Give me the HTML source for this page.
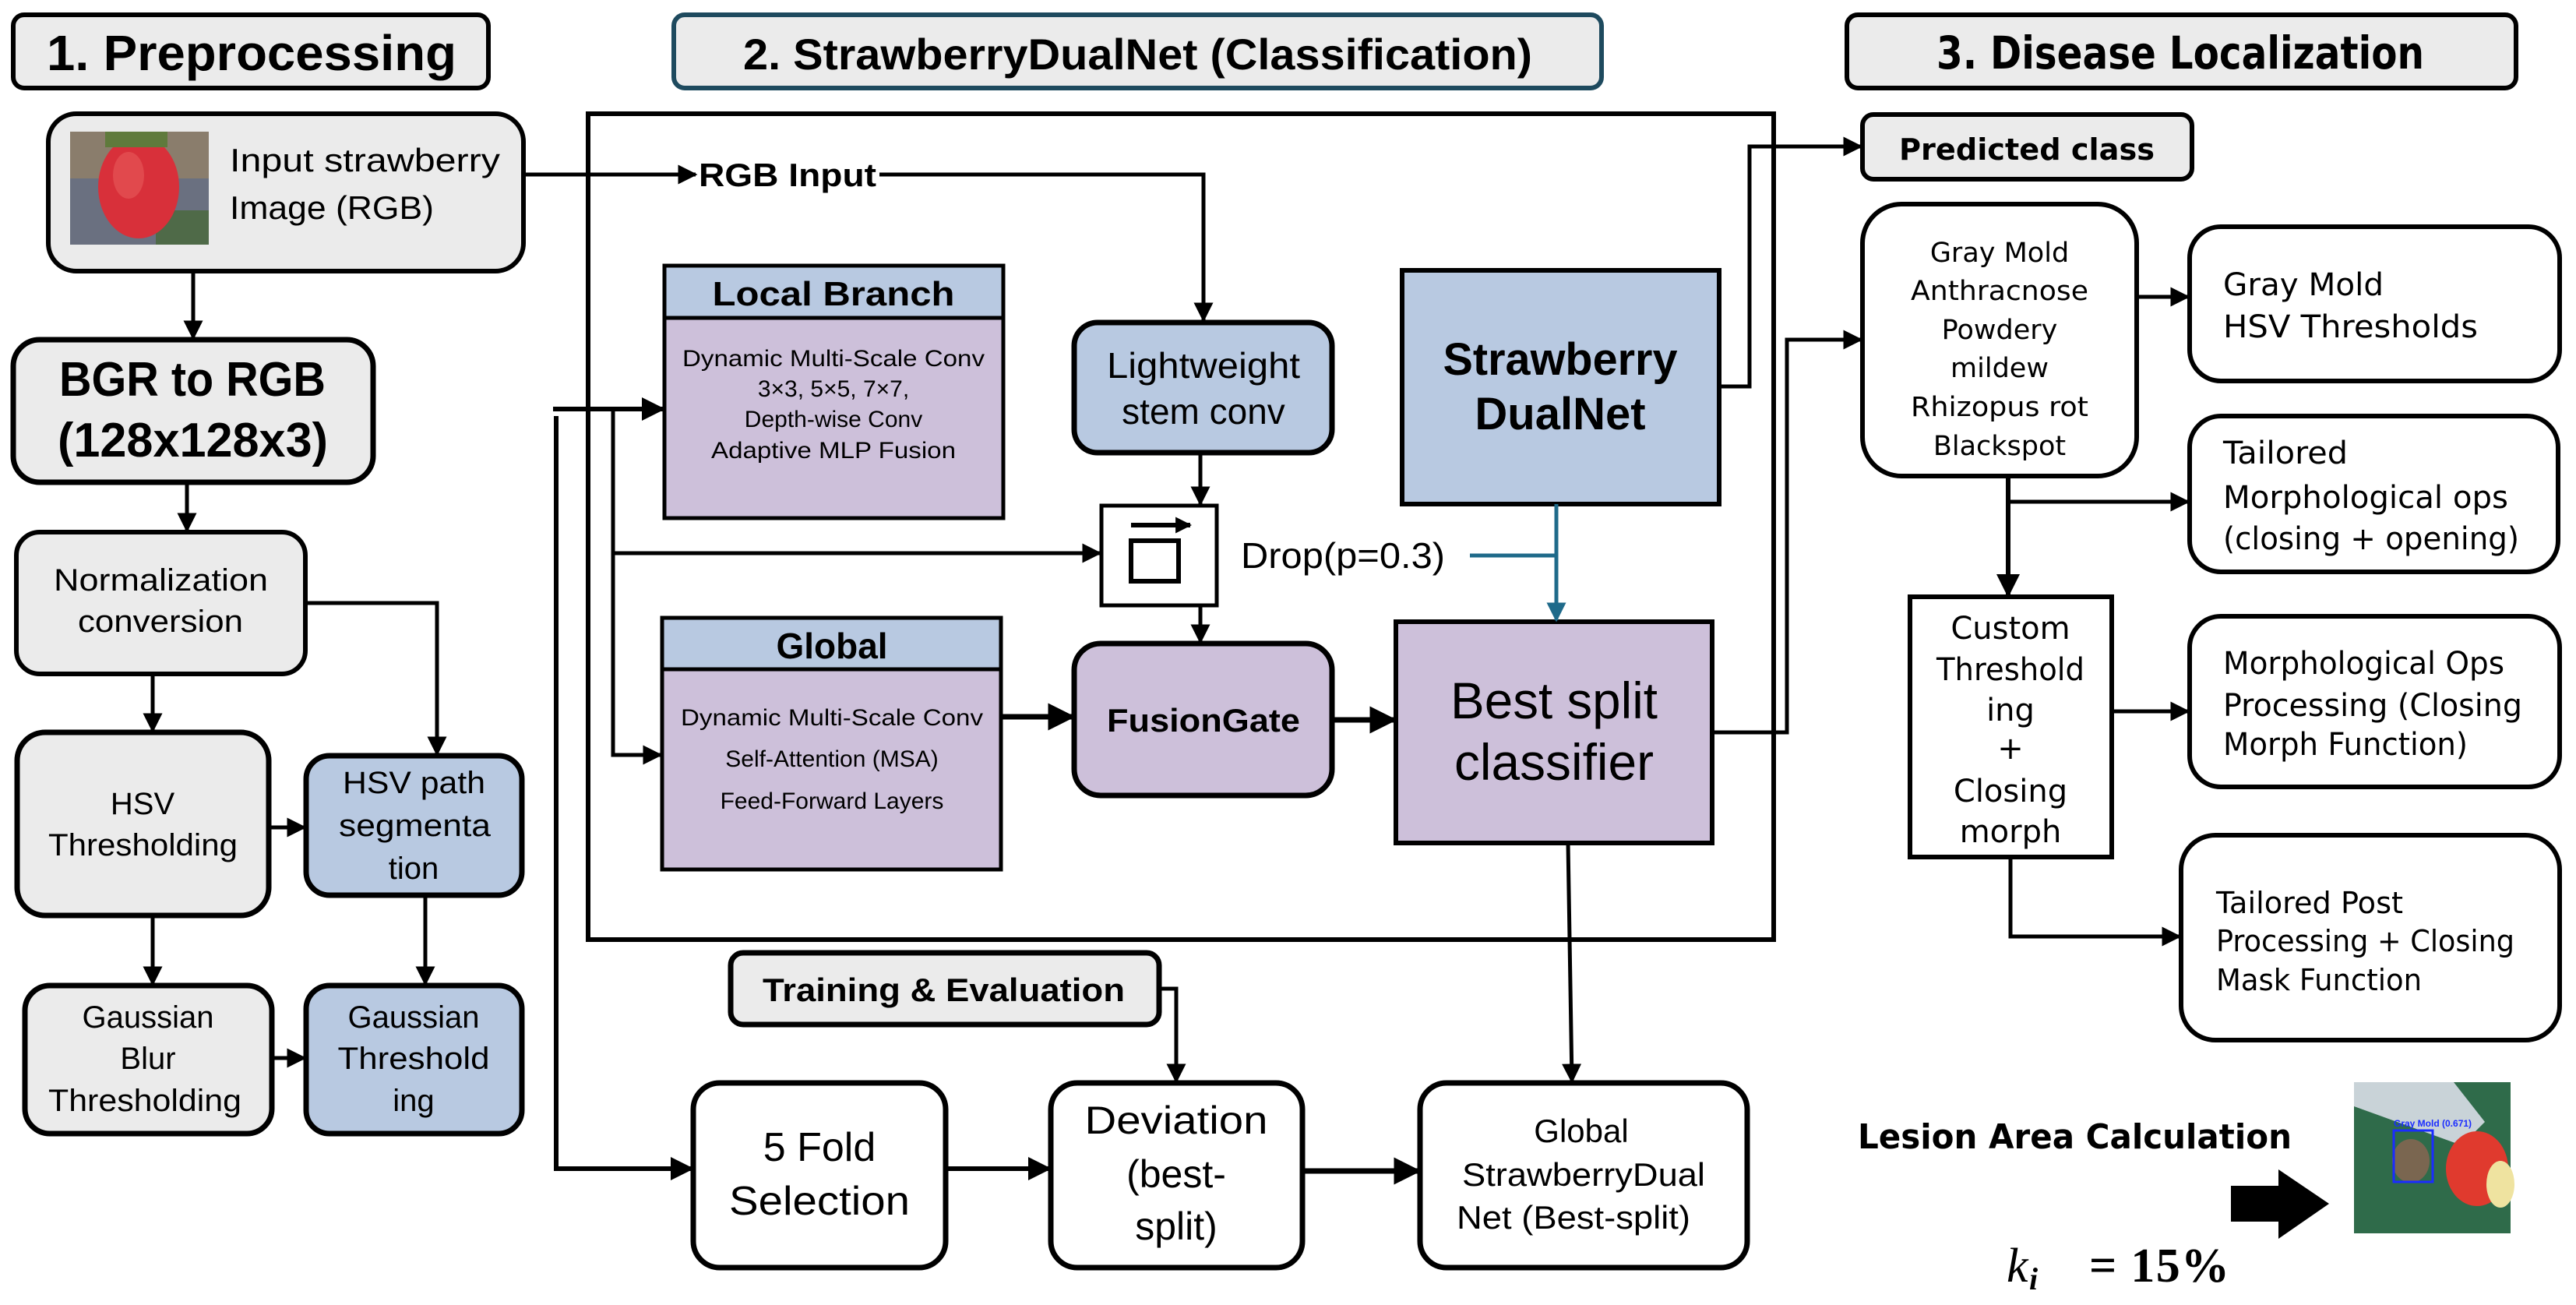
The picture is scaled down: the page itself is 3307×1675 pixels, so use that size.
<!DOCTYPE html>
<html><head><meta charset="utf-8"><style>html,body{margin:0;padding:0;background:#fff}svg{display:block}</style></head>
<body>
<svg width="3307" height="1675" viewBox="0 0 3307 1675" xmlns="http://www.w3.org/2000/svg">
<defs>
<marker id="a" viewBox="0 0 10 10" refX="9" refY="5" markerWidth="5" markerHeight="5" orient="auto" markerUnits="strokeWidth"><path d="M0,0L10,5L0,10z" fill="#000"/></marker>
<marker id="b" viewBox="0 0 10 10" refX="9" refY="5" markerWidth="3.5" markerHeight="3.5" orient="auto" markerUnits="strokeWidth"><path d="M0,0L10,5L0,10z" fill="#000"/></marker>
<marker id="t" viewBox="0 0 10 10" refX="9" refY="5" markerWidth="5" markerHeight="5" orient="auto" markerUnits="strokeWidth"><path d="M0,0L10,5L0,10z" fill="#1f6a8a"/></marker>
</defs>
<g font-family="Liberation Sans, sans-serif" fill="#000">

<!-- SECTION TITLES -->
<rect x="17" y="19" width="610" height="94" rx="14" fill="#ebebeb" stroke="#000" stroke-width="6"/>
<text x="60" y="90" font-size="64" font-weight="bold" textLength="526" lengthAdjust="spacingAndGlyphs">1. Preprocessing</text>
<rect x="865" y="19" width="1191" height="94" rx="14" fill="#ebebeb" stroke="#1e4a5e" stroke-width="6"/>
<text x="954" y="89" font-size="56" font-weight="bold" textLength="1013" lengthAdjust="spacingAndGlyphs">2. StrawberryDualNet (Classification)</text>
<rect x="2371" y="19" width="859" height="94" rx="14" fill="#ebebeb" stroke="#000" stroke-width="6"/>
<text x="2486" y="88" font-size="58" font-weight="bold" font-family="DejaVu Sans, sans-serif" textLength="626" lengthAdjust="spacingAndGlyphs">3. Disease Localization</text>

<!-- SECTION 1 -->
<rect x="62" y="146" width="610" height="202" rx="36" fill="#ebebeb" stroke="#000" stroke-width="6"/>
<rect x="90" y="169" width="178" height="145" fill="#6a7080"/>
<rect x="90" y="169" width="178" height="60" fill="#8a7d6c"/>
<rect x="200" y="270" width="68" height="44" fill="#4f6a48"/>
<ellipse cx="178" cy="240" rx="52" ry="66" fill="#d8303a"/>
<ellipse cx="165" cy="225" rx="20" ry="30" fill="#e85a5a" opacity="0.6"/>
<rect x="135" y="169" width="80" height="20" fill="#5f7a3c"/>
<text x="295" y="220" font-size="42" textLength="347" lengthAdjust="spacingAndGlyphs">Input strawberry</text>
<text x="295" y="281" font-size="42" textLength="262" lengthAdjust="spacingAndGlyphs">Image (RGB)</text>

<rect x="17" y="436" width="462" height="183" rx="34" fill="#ebebeb" stroke="#000" stroke-width="7"/>
<text x="76" y="508" font-size="62" font-weight="bold" textLength="342" lengthAdjust="spacingAndGlyphs">BGR to RGB</text>
<text x="74" y="586" font-size="62" font-weight="bold" textLength="347" lengthAdjust="spacingAndGlyphs">(128x128x3)</text>

<rect x="21" y="683" width="371" height="182" rx="30" fill="#ebebeb" stroke="#000" stroke-width="6"/>
<text x="69" y="758" font-size="40" textLength="275" lengthAdjust="spacingAndGlyphs">Normalization</text>
<text x="100" y="811" font-size="40" textLength="212" lengthAdjust="spacingAndGlyphs">conversion</text>

<rect x="22" y="940" width="323" height="235" rx="36" fill="#ebebeb" stroke="#000" stroke-width="7"/>
<text x="183" y="1045" font-size="40" text-anchor="middle">HSV</text>
<text x="62" y="1098" font-size="40" textLength="243" lengthAdjust="spacingAndGlyphs">Thresholding</text>
<rect x="393" y="970" width="277" height="179" rx="30" fill="#b8c9e1" stroke="#000" stroke-width="7"/>
<text x="440" y="1018" font-size="40" textLength="183" lengthAdjust="spacingAndGlyphs">HSV path</text>
<text x="435" y="1073" font-size="40" textLength="195" lengthAdjust="spacingAndGlyphs">segmenta</text>
<text x="531" y="1128" font-size="40" text-anchor="middle">tion</text>

<rect x="32" y="1265" width="317" height="190" rx="32" fill="#ebebeb" stroke="#000" stroke-width="7"/>
<text x="190" y="1319" font-size="40" text-anchor="middle">Gaussian</text>
<text x="190" y="1372" font-size="40" text-anchor="middle">Blur</text>
<text x="62" y="1426" font-size="40" textLength="248" lengthAdjust="spacingAndGlyphs">Thresholding</text>
<rect x="393" y="1265" width="277" height="190" rx="30" fill="#b8c9e1" stroke="#000" stroke-width="7"/>
<text x="531" y="1319" font-size="40" text-anchor="middle">Gaussian</text>
<text x="531" y="1372" font-size="40" text-anchor="middle" textLength="195" lengthAdjust="spacingAndGlyphs">Threshold</text>
<text x="531" y="1426" font-size="40" text-anchor="middle">ing</text>

<g stroke="#000" stroke-width="5" fill="none">
<path d="M248,350V434" marker-end="url(#a)"/>
<path d="M240,621V681" marker-end="url(#a)"/>
<path d="M196,867V938" marker-end="url(#a)"/>
<path d="M392,774H561V968" marker-end="url(#a)"/>
<path d="M346,1062H391" marker-end="url(#a)"/>
<path d="M196,1177V1263" marker-end="url(#a)"/>
<path d="M546,1151V1263" marker-end="url(#a)"/>
<path d="M349,1358H391" marker-end="url(#a)"/>
</g>

<!-- SECTION 2 frame -->
<rect x="755" y="146" width="1522" height="1060" fill="none" stroke="#000" stroke-width="6"/>
<text x="897" y="239" font-size="42" font-weight="bold" textLength="228" lengthAdjust="spacingAndGlyphs">RGB Input</text>

<!-- Local Branch -->
<rect x="853" y="341" width="435" height="324" fill="#cdc0da" stroke="#000" stroke-width="5"/>
<rect x="853" y="341" width="435" height="67" fill="#b8c9e1" stroke="#000" stroke-width="5"/>
<text x="1070" y="392" font-size="44" font-weight="bold" text-anchor="middle" textLength="311" lengthAdjust="spacingAndGlyphs">Local Branch</text>
<g font-size="30" text-anchor="middle">
<text x="1070" y="470" textLength="388" lengthAdjust="spacingAndGlyphs">Dynamic Multi-Scale Conv</text>
<text x="1070" y="509">3×3, 5×5, 7×7,</text>
<text x="1070" y="548">Depth-wise Conv</text>
<text x="1070" y="588" textLength="314" lengthAdjust="spacingAndGlyphs">Adaptive MLP Fusion</text>
</g>

<!-- Global -->
<rect x="850" y="793" width="435" height="323" fill="#cdc0da" stroke="#000" stroke-width="5"/>
<rect x="850" y="793" width="435" height="66" fill="#b8c9e1" stroke="#000" stroke-width="5"/>
<text x="1068" y="845" font-size="46" font-weight="bold" text-anchor="middle">Global</text>
<g font-size="30" text-anchor="middle">
<text x="1068" y="931" textLength="388" lengthAdjust="spacingAndGlyphs">Dynamic Multi-Scale Conv</text>
<text x="1068" y="984">Self-Attention (MSA)</text>
<text x="1068" y="1038">Feed-Forward Layers</text>
</g>

<!-- Lightweight -->
<rect x="1379" y="414" width="331" height="167" rx="30" fill="#b8c9e1" stroke="#000" stroke-width="7"/>
<text x="1545" y="485" font-size="46" text-anchor="middle" textLength="248" lengthAdjust="spacingAndGlyphs">Lightweight</text>
<text x="1545" y="544" font-size="46" text-anchor="middle">stem conv</text>

<!-- Drop -->
<rect x="1414" y="649" width="148" height="128" fill="#fff" stroke="#000" stroke-width="5"/>
<rect x="1452" y="694" width="61" height="52" fill="none" stroke="#000" stroke-width="6"/>
<path d="M1452,674H1528" stroke="#000" stroke-width="6" fill="none" marker-end="url(#b)"/>
<text x="1593" y="729" font-size="46" textLength="262" lengthAdjust="spacingAndGlyphs">Drop(p=0.3)</text>

<!-- FusionGate -->
<rect x="1379" y="826" width="331" height="195" rx="34" fill="#cdc0da" stroke="#000" stroke-width="7"/>
<text x="1545" y="939" font-size="42" font-weight="bold" text-anchor="middle" textLength="248" lengthAdjust="spacingAndGlyphs">FusionGate</text>

<!-- Strawberry DualNet -->
<rect x="1800" y="347" width="407" height="300" fill="#b8c9e1" stroke="#000" stroke-width="6"/>
<text x="2003" y="481" font-size="58" font-weight="bold" text-anchor="middle" textLength="301" lengthAdjust="spacingAndGlyphs">Strawberry</text>
<text x="2003" y="551" font-size="58" font-weight="bold" text-anchor="middle">DualNet</text>

<!-- Best split -->
<rect x="1792" y="798" width="406" height="284" fill="#cdc0da" stroke="#000" stroke-width="6"/>
<text x="1995" y="922" font-size="66" text-anchor="middle" textLength="266" lengthAdjust="spacingAndGlyphs">Best split</text>
<text x="1995" y="1001" font-size="66" text-anchor="middle" textLength="256" lengthAdjust="spacingAndGlyphs">classifier</text>

<!-- Bottom row -->
<rect x="938" y="1223" width="550" height="92" rx="16" fill="#ebebeb" stroke="#000" stroke-width="7"/>
<text x="979" y="1285" font-size="42" font-weight="bold" textLength="465" lengthAdjust="spacingAndGlyphs">Training &amp; Evaluation</text>
<rect x="890" y="1390" width="324" height="237" rx="34" fill="#fff" stroke="#000" stroke-width="7"/>
<text x="1052" y="1490" font-size="52" text-anchor="middle">5 Fold</text>
<text x="1052" y="1559" font-size="52" text-anchor="middle" textLength="232" lengthAdjust="spacingAndGlyphs">Selection</text>
<rect x="1349" y="1390" width="323" height="237" rx="34" fill="#fff" stroke="#000" stroke-width="7"/>
<text x="1510" y="1455" font-size="50" text-anchor="middle" textLength="235" lengthAdjust="spacingAndGlyphs">Deviation</text>
<text x="1510" y="1524" font-size="50" text-anchor="middle">(best-</text>
<text x="1510" y="1591" font-size="50" text-anchor="middle">split)</text>
<rect x="1823" y="1390" width="420" height="237" rx="34" fill="#fff" stroke="#000" stroke-width="7"/>
<text x="2030" y="1466" font-size="42" text-anchor="middle">Global</text>
<text x="2033" y="1522" font-size="42" text-anchor="middle" textLength="312" lengthAdjust="spacingAndGlyphs">StrawberryDual</text>
<text x="2020" y="1577" font-size="42" text-anchor="middle" textLength="300" lengthAdjust="spacingAndGlyphs">Net (Best-split)</text>

<!-- Section 2 connectors -->
<g stroke="#000" stroke-width="5" fill="none">
<path d="M674,224H893" marker-end="url(#a)"/>
<path d="M1129,224H1545V411" marker-end="url(#a)"/>
<path d="M710,525H851" stroke-width="6" marker-end="url(#a)"/>
<path d="M787,525V969H848" marker-end="url(#a)"/>
<path d="M787,710H1412" marker-end="url(#a)"/>
<path d="M714,534V1500H888" stroke-width="6" marker-end="url(#a)"/>
<path d="M1541,581V647" marker-end="url(#a)"/>
<path d="M1541,777V824" marker-end="url(#a)"/>
<path d="M1285,920H1377" stroke-width="7" marker-end="url(#a)"/>
<path d="M1710,924H1790" stroke-width="7" marker-end="url(#a)"/>
<path d="M2207,496H2246V188H2389" marker-end="url(#a)"/>
<path d="M2198,940H2294V436H2389" marker-end="url(#a)"/>
<path d="M2013,1082L2018,1388" marker-end="url(#a)"/>
<path d="M1488,1269H1510V1388" marker-end="url(#a)"/>
<path d="M1214,1500H1347" stroke-width="6" marker-end="url(#a)"/>
<path d="M1672,1503H1821" stroke-width="7" marker-end="url(#a)"/>
</g>
<g stroke="#1f6a8a" stroke-width="5" fill="none">
<path d="M1887,713H1998"/>
<path d="M1998,647V796" marker-end="url(#t)"/>
</g>

<!-- SECTION 3 -->
<g font-family="DejaVu Sans, sans-serif">
<rect x="2391" y="147" width="423" height="83" rx="14" fill="#ebebeb" stroke="#000" stroke-width="6"/>
<text x="2438" y="205" font-size="38" font-weight="bold" textLength="328" lengthAdjust="spacingAndGlyphs">Predicted class</text>

<rect x="2391" y="262" width="352" height="349" rx="50" fill="#fff" stroke="#000" stroke-width="6"/>
<g font-size="35" text-anchor="middle">
<text x="2567" y="336">Gray Mold</text>
<text x="2567" y="385" textLength="228" lengthAdjust="spacingAndGlyphs">Anthracnose</text>
<text x="2567" y="435">Powdery</text>
<text x="2567" y="484">mildew</text>
<text x="2567" y="534" textLength="228" lengthAdjust="spacingAndGlyphs">Rhizopus rot</text>
<text x="2567" y="584">Blackspot</text>
</g>

<rect x="2811" y="291" width="475" height="198" rx="40" fill="#fff" stroke="#000" stroke-width="6"/>
<text x="2854" y="379" font-size="40" textLength="206" lengthAdjust="spacingAndGlyphs">Gray Mold</text>
<text x="2854" y="433" font-size="40" textLength="327" lengthAdjust="spacingAndGlyphs">HSV Thresholds</text>

<rect x="2811" y="534" width="473" height="200" rx="40" fill="#fff" stroke="#000" stroke-width="6"/>
<text x="2854" y="595" font-size="40" textLength="160" lengthAdjust="spacingAndGlyphs">Tailored</text>
<text x="2854" y="652" font-size="40" textLength="366" lengthAdjust="spacingAndGlyphs">Morphological ops</text>
<text x="2854" y="705" font-size="40" textLength="380" lengthAdjust="spacingAndGlyphs">(closing + opening)</text>

<rect x="2452" y="766" width="259" height="334" fill="#fff" stroke="#000" stroke-width="6"/>
<g font-size="40" text-anchor="middle">
<text x="2581" y="820">Custom</text>
<text x="2581" y="873" textLength="190" lengthAdjust="spacingAndGlyphs">Threshold</text>
<text x="2581" y="925">ing</text>
<text x="2581" y="974">+</text>
<text x="2581" y="1029">Closing</text>
<text x="2581" y="1081">morph</text>
</g>

<rect x="2811" y="791" width="475" height="219" rx="40" fill="#fff" stroke="#000" stroke-width="6"/>
<text x="2854" y="865" font-size="40" textLength="361" lengthAdjust="spacingAndGlyphs">Morphological Ops</text>
<text x="2854" y="919" font-size="40" textLength="384" lengthAdjust="spacingAndGlyphs">Processing (Closing</text>
<text x="2854" y="969" font-size="40" textLength="314" lengthAdjust="spacingAndGlyphs">Morph Function)</text>

<rect x="2800" y="1072" width="486" height="263" rx="44" fill="#fff" stroke="#000" stroke-width="6"/>
<text x="2845" y="1172" font-size="38" textLength="240" lengthAdjust="spacingAndGlyphs">Tailored Post</text>
<text x="2845" y="1221" font-size="38" textLength="383" lengthAdjust="spacingAndGlyphs">Processing + Closing</text>
<text x="2845" y="1271" font-size="38" textLength="264" lengthAdjust="spacingAndGlyphs">Mask Function</text>

<text x="2385" y="1474" font-size="44" font-weight="bold" textLength="557" lengthAdjust="spacingAndGlyphs">Lesion Area Calculation</text>
</g>
<g stroke="#000" stroke-width="5" fill="none">
<path d="M2743,381H2809" marker-end="url(#a)"/>
<path d="M2578,611V764" stroke-width="6" marker-end="url(#a)"/>
<path d="M2578,644H2809" marker-end="url(#a)"/>
<path d="M2711,913H2809" marker-end="url(#a)"/>
<path d="M2581,1100V1202H2798" marker-end="url(#a)"/>
</g>
<path d="M2864,1522H2925V1501L2990,1545L2925,1590V1568H2864Z" fill="#000"/>

<!-- result image -->
<rect x="3022" y="1389" width="201" height="194" fill="#2f6b4a"/>
<path d="M3022,1389H3150L3190,1440L3160,1470L3022,1420Z" fill="#c9d3d8"/>
<ellipse cx="3180" cy="1500" rx="40" ry="48" fill="#e03a2e"/>
<ellipse cx="3210" cy="1520" rx="18" ry="30" fill="#efe3a0"/>
<ellipse cx="3095" cy="1490" rx="24" ry="28" fill="#7a6650"/>
<rect x="3073" y="1451" width="50" height="66" fill="none" stroke="#1a2cff" stroke-width="3"/>
<text x="3073" y="1446" font-size="12" font-weight="bold" fill="#1a2cff">Gray Mold (0.671)</text>

<text x="2576" y="1645" font-family="Liberation Serif, serif" font-size="62" font-style="italic">k</text>
<text x="2605" y="1655" font-family="Liberation Serif, serif" font-size="40" font-style="italic" font-weight="bold">i</text>
<text x="2682" y="1645" font-family="Liberation Serif, serif" font-size="62" font-weight="bold" textLength="180" lengthAdjust="spacing">= 15%</text>
</g>
</svg>
</body></html>
